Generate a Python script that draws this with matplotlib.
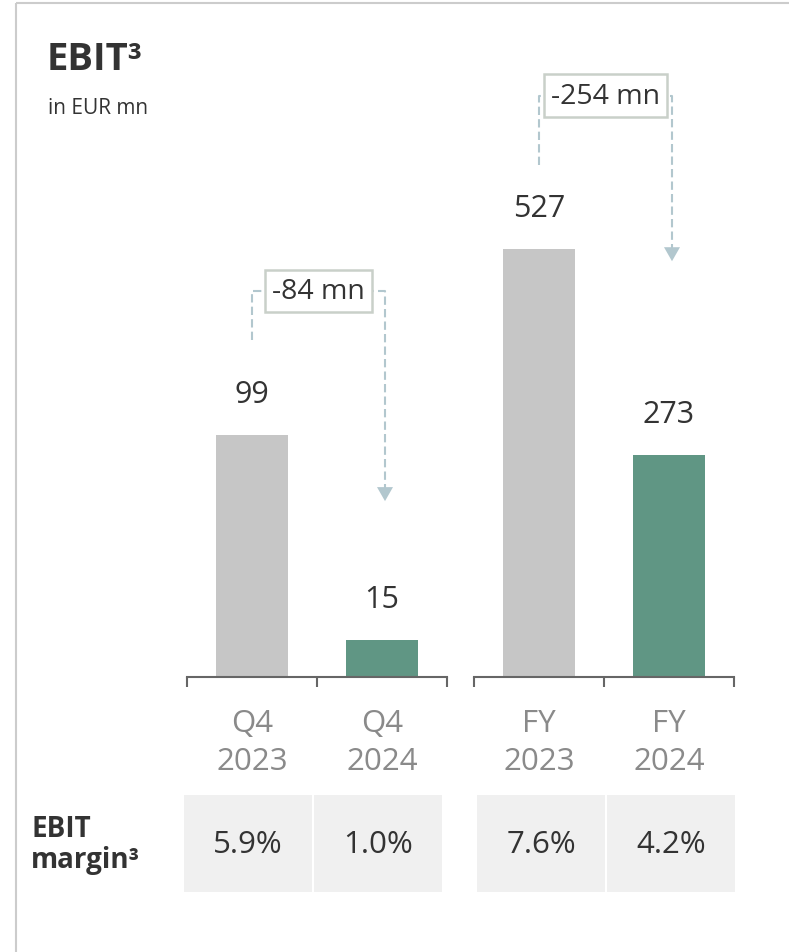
import matplotlib
matplotlib.use('Agg')
import matplotlib.pyplot as plt
from matplotlib.patches import Rectangle, Polygon

plt.rcParams['font.family'] = ['Open Sans', 'Noto Sans', 'DejaVu Sans']

# 数据
periods = ['Q4', 'FY']
years = ['2023', '2024']
q4_ebit = [99, 15]
fy_ebit = [527, 273]
changes = ['-84 mn', '-254 mn']
margins = [['5.9%', '1.0%'], ['7.6%', '4.2%']]

# 样式
GREY_BAR = '#c6c6c6'
GREEN_BAR = '#609684'
TEXT = '#333333'
LABEL = '#8a8a8a'
AXIS = '#666666'
DASH = '#b2c7ce'
FRAME = '#cccccc'

W, H = 789, 953
fig = plt.figure(figsize=(W / 100, H / 100), dpi=100)

# 两组柱子各自一个坐标轴（刻度不同）
axes_left = [187, 474]
ylims = [253, 761]
cell_shift = [-4, 2]
# 括号位置（各轴数据单位）：起点、水平线、箭头尖端
bracket_start = [138, 630]
bracket_level = [158, 716]
arrow_tip = [72, 512]

ov = fig.add_axes([0, 0, 1, 1], zorder=5)
ov.set_xlim(0, W)
ov.set_ylim(H, 0)
ov.axis('off')
ov.patch.set_visible(False)


def to_px(ax, x, y):
    return ov.transData.inverted().transform(ax.transData.transform((x, y)))


bar_axes = []
for g, (vals, left) in enumerate(zip([q4_ebit, fy_ebit], axes_left)):
    ax = fig.add_axes([left / W, 1 - 678 / H, 260 / W, 618 / H])
    bar_axes.append(ax)
    bars = ax.bar([0, 1], vals, width=0.56, color=[GREY_BAR, GREEN_BAR], zorder=2)
    ax.set_xlim(-0.5, 1.5)
    ax.set_ylim(0, ylims[g])
    for s in ['top', 'right', 'left']:
        ax.spines[s].set_visible(False)
    ax.spines['bottom'].set_color(AXIS)
    ax.spines['bottom'].set_linewidth(1.5)
    ax.set_yticks([])
    ax.set_xticks([0, 1])
    ax.set_xticklabels([f'{periods[g]}\n{y}' for y in years], fontsize=22.5,
                       color=LABEL, linespacing=1.38)
    ax.tick_params(axis='x', which='major', length=0, pad=22)
    ax.set_xticks([-0.5, 0.5, 1.5], minor=True)
    ax.tick_params(axis='x', which='minor', length=7.5, width=1.5, color=AXIS,
                   direction='out')
    ax.patch.set_visible(False)
    for b, v in zip(bars, vals):
        ax.annotate(f'{v}', (b.get_x() + b.get_width() / 2, v), xytext=(0, 19),
                    textcoords='offset points', ha='center', va='bottom',
                    fontsize=22, color=TEXT)

# 变化括号
for g, ax in enumerate(bar_axes):
    x0, y0 = to_px(ax, 0, bracket_start[g])
    _, ylev = to_px(ax, 0, bracket_level[g])
    x1, ytip = to_px(ax, 1, arrow_tip[g])
    x1 += 3
    ov.plot([x0, x0, x1, x1], [y0, ylev, ylev, ytip - 13], color=DASH, lw=1.5,
            ls=(0, (4, 2)), zorder=1)
    ov.add_patch(Polygon([[x1 - 8, ytip - 14], [x1 + 8, ytip - 14], [x1, ytip]],
                         closed=True, color=DASH, lw=0))
    ov.text((x0 + x1) / 2, ylev, changes[g], ha='center', va='center',
            fontsize=20.5, color=TEXT, zorder=3,
            bbox=dict(boxstyle='square,pad=0.25', fc='white', ec='#c9d0c9', lw=1.8))

# 边框
ov.plot([16, W], [4, 4], color=FRAME, lw=1.5, solid_capstyle='butt')
ov.plot([16, 16], [4, H], color=FRAME, lw=1.5, solid_capstyle='butt')

# 标题
ov.text(47, 70, 'EBIT³', fontsize=27.5, fontweight='bold', color=TEXT,
        ha='left', va='baseline')
ov.text(48, 114, 'in EUR mn', fontsize=15, color=TEXT, ha='left', va='baseline')

# EBIT margin 表格
ov.text(31, 845, 'EBIT\nmargin³', fontsize=20, fontweight='bold', color=TEXT,
        ha='left', va='center', linespacing=1.05)
for g, ax in enumerate(bar_axes):
    for i, m in enumerate(margins[g]):
        xa, _ = to_px(ax, i - 0.49, 0)
        xb, _ = to_px(ax, i + 0.49, 0)
        xa += cell_shift[g]
        xb += cell_shift[g]
        ov.add_patch(Rectangle((xa, 796), xb - xa, 97, fc='#f0f0f0', ec='none'))
        ov.text((xa + xb) / 2, 845, m, ha='center', va='center', fontsize=22.5,
                color=TEXT)

fig.savefig('out.png', dpi=100)
